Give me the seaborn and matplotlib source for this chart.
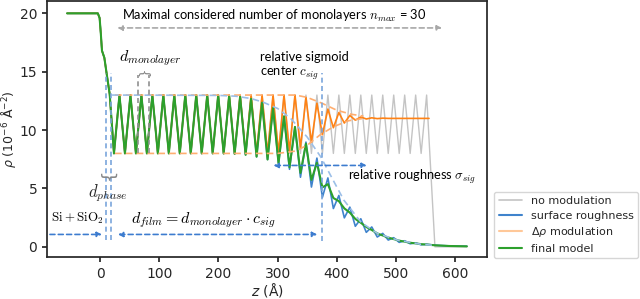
import numpy as np
import matplotlib
matplotlib.use("Agg")
import matplotlib.pyplot as plt
from matplotlib.lines import Line2D
import seaborn as sns

# Si + SiO2 part, shared by all models (z in Å, rho in 1e-6 Å^-2)
sub_z = [-56, -4, -1, 1, 3, 7, 11, 16]
sub_rho = [20.0, 20.0, 19.6, 18.3, 16.8, 16.2, 14.8, 13.1]

# monolayer grid
d_mono = 18.55
first_peak = 14.0
n_max = 30

# values at the troughs (layer 0..28) and peaks (layer 1..29)
gray_trough = [8.0] * 29
gray_peak = [13.0] * 29

orange_trough = [8.0] * 15 + [8.05, 8.2, 8.5, 8.95, 9.6, 10.2, 10.6, 10.85, 10.95, 10.98] + [11.0] * 4
orange_peak = [13.0] * 17 + [12.8, 12.3, 11.8, 11.5, 11.25, 11.12, 11.05, 11.02] + [11.0] * 4

blue_trough = [8.0] * 10 + [7.99, 7.96, 7.88, 7.72, 7.48, 7.12, 6.64, 5.96, 5.12, 4.24,
                            3.28, 2.48, 1.76, 1.24, 0.84, 0.58, 0.38, 0.26, 0.17]
blue_peak = [13.0] * 10 + [12.96, 12.87, 12.68, 12.35, 11.9, 11.18, 10.27, 8.97, 7.6, 5.9,
                           4.4, 3.4, 2.4, 1.7, 1.15, 0.78, 0.52, 0.34, 0.22]

green_trough = [8.0] * 10 + [7.99, 7.96, 7.88, 7.72, 7.48, 7.16, 6.81, 6.33, 5.73, 5.09,
                             4.18, 3.29, 2.39, 1.70, 1.15, 0.79, 0.53, 0.35, 0.23]
green_peak = [13.0] * 10 + [12.96, 12.87, 12.68, 12.35, 11.9, 11.18, 10.27, 8.83, 7.2, 5.37,
                            3.91, 2.93, 2.06, 1.44, 0.97, 0.66, 0.44, 0.29, 0.19]

# what comes after the last layer
gray_tail_z, gray_tail = [566, 620], [0.0, 0.0]
orange_tail_z, orange_tail = [556], [11.0]
blue_tail_z, blue_tail = [566, 590, 620], [0.14, 0.08, 0.05]
green_tail_z, green_tail = [566, 590, 620], [0.13, 0.07, 0.04]

# dashed envelopes
env_blue_z = [20, 200, 230, 255, 275, 300, 322, 350, 373, 395, 412, 441, 469, 503, 542, 565]
env_blue = [13.0, 12.97, 12.9, 12.7, 12.4, 11.85, 11.0, 9.4, 7.7, 5.6, 4.0, 2.1, 1.14, 0.57, 0.22, 0.12]
env_up_z = [25, 330, 350, 375, 400, 425, 445]
env_up = [13.0, 13.0, 12.8, 12.3, 11.7, 11.35, 11.2]
env_lo_z = [25, 300, 330, 350, 372, 395, 420, 445]
env_lo = [8.0, 8.0, 8.2, 8.7, 9.6, 10.3, 10.8, 11.0]

layer = np.arange(n_max - 1)
trough_z = first_peak + d_mono * (layer + 0.5)
peak_z = first_peak + d_mono * (layer + 1)


def profile(troughs, peaks, tail_z, tail):
    zz = np.empty(2 * len(troughs))
    rr = np.empty(2 * len(troughs))
    zz[0::2], zz[1::2] = trough_z, peak_z
    rr[0::2], rr[1::2] = troughs, peaks
    z = np.concatenate([sub_z, zz, tail_z])
    rho = np.concatenate([sub_rho, rr, tail])
    return z, rho


sns.set_theme(style="ticks")
plt.rcParams["font.family"] = ["DejaVu Sans"]
plt.rcParams["mathtext.fontset"] = "dejavusans"

fig = plt.figure(figsize=(6.4, 2.99), dpi=100)
ax = fig.add_axes([0.0734, 0.1394, 0.6875, 0.857])

c_gray = "#c4c4c4"
c_blue = "#3f83cc"
c_orange = "#ff8214"
c_green = "#2ca02c"

curves = [
    (gray_trough, gray_peak, gray_tail_z, gray_tail, c_gray, 1.0),
    (blue_trough, blue_peak, blue_tail_z, blue_tail, c_blue, 1.2),
    (orange_trough, orange_peak, orange_tail_z, orange_tail, c_orange, 1.2),
    (green_trough, green_peak, green_tail_z, green_tail, c_green, 1.5),
]
for tr, pk, tz, tv, col, lw in curves:
    z, rho = profile(tr, pk, tz, tv)
    sns.lineplot(x=z, y=rho, ax=ax, color=col, lw=lw, sort=False, estimator=None,
                 solid_joinstyle="round")

# envelopes
dash = (0, (4, 2.5))
sns.lineplot(x=env_up_z, y=env_up, ax=ax, color="#ffae70", lw=1.2, ls=dash, sort=False, estimator=None)
sns.lineplot(x=env_lo_z, y=env_lo, ax=ax, color="#ffae70", lw=1.2, ls=dash, sort=False, estimator=None)
sns.lineplot(x=env_blue_z, y=env_blue, ax=ax, color="#9cbfe8", lw=1.2, ls=dash, sort=False, estimator=None)

# vertical markers
vl = "#7aa6dc"
for zv in (9.6, 18.6):
    ax.plot([zv, zv], [0.6, 14.9], color=vl, lw=1.2, ls=(0, (3, 2)))
ax.plot([375, 375], [0.5, 14.9], color=vl, lw=1.2, ls=(0, (3, 2)))
for zv in (64, 83):
    ax.plot([zv, zv], [8.0, 14.7], color="#909090", lw=1.2, ls=(0, (3, 2)))

# arrows
ac = "#3d7ccf"
def arrow(x0, x1, y, style, col=ac):
    ax.annotate("", xy=(x1, y), xytext=(x0, y),
                arrowprops=dict(arrowstyle=style, color=col, lw=1.2, ls=(0, (3, 2)),
                                mutation_scale=7, shrinkA=0, shrinkB=0))

arrow(-85, 3, 1.06, "-|>")
arrow(30, 367, 1.06, "<|-|>")
arrow(293, 451, 6.97, "<|-|>")
arrow(29, 578, 18.75, "<|-|>", col="#a8a8a8")

# braces
ax.text(73.5, 15.0, "}", rotation=90, ha="center", va="center", fontsize=9.5,
        color="#888888", family="DejaVu Sans")
ax.text(14, 6.2, "{", rotation=90, ha="center", va="center", fontsize=13,
        color="#888888", family="DejaVu Sans")

# annotations
tk = dict(family="Lato", fontsize=9.3, color="black", math_fontfamily="cm")
mk = dict(family="Lato", fontsize=11.5, color="black", math_fontfamily="cm")
ax.text(294, 19.77, r"Maximal considered number of monolayers $n_{max}$ = 30", ha="center", va="center", **tk)
ax.text(84.5, 16.2, r"$d_{monolayer}$", ha="center", va="center", **mk)
ax.text(270, 15.45, "relative sigmoid\n" + r"center $c_{sig}$", ha="left", va="center", linespacing=1.1, **tk)
ax.text(419, 5.95, r"relative roughness $\sigma_{sig}$", ha="left", va="center", **tk)
ax.text(13.5, 4.6, r"$d_{phase}$", ha="center", va="center", family="Lato", fontsize=12,
        math_fontfamily="cm")
ax.text(-38, 2.45, r"$\mathrm{Si + SiO_2}$", ha="center", va="center", **tk)
ax.text(175, 2.27, r"$d_{film} = d_{monolayer}\cdot c_{sig}$", ha="center", va="center", **mk)

ax.set_xlim(-90, 654)
ax.set_ylim(-0.9, 21.05)
ax.set_xticks([0, 100, 200, 300, 400, 500, 600])
ax.set_yticks([0, 5, 10, 15, 20])
ax.tick_params(labelsize=10, length=3.5)
ax.set_xlabel(r"$z$ (Å)", fontsize=10, labelpad=0)
ax.set_ylabel(r"$\rho$ ($10^{-6}$ Å$^{-2}$)", fontsize=9)
ax.yaxis.set_label_coords(-0.065, 0.5)

handles = [
    Line2D([], [], color=c_gray, lw=1.2),
    Line2D([], [], color=c_blue, lw=1.5),
    Line2D([], [], color="#ffc899", lw=1.5),
    Line2D([], [], color=c_green, lw=1.5),
]
labels = ["no modulation", "surface roughness", r"$\Delta\rho$ modulation", "final model"]
fig.legend(handles, labels, loc="lower left", bbox_to_anchor=(0.772, 0.137),
           fontsize=8, frameon=True, handlelength=2.1, labelspacing=0.4,
           borderaxespad=0)

fig.savefig("out.png", dpi=100)
